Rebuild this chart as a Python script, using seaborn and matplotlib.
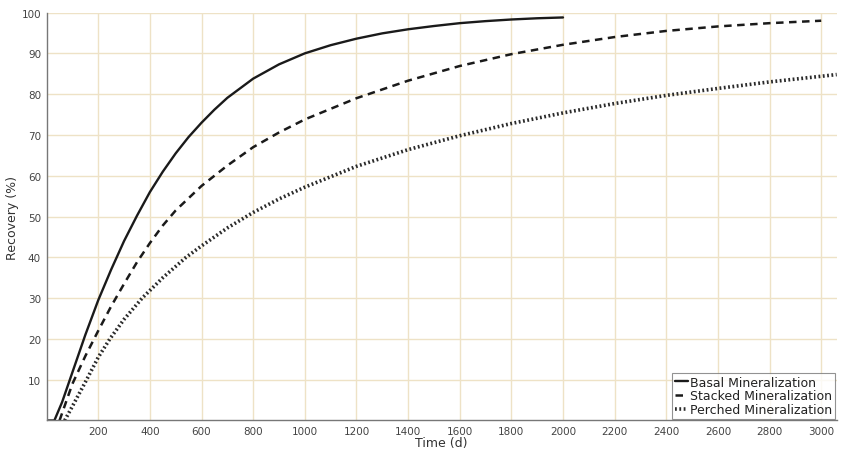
import numpy as np
import pandas as pd
import matplotlib
matplotlib.use("Agg")
import matplotlib.pyplot as plt
import seaborn as sns

# ---- data ----
basal_t = [0, 30, 60, 90, 120, 150, 200, 250, 300, 350, 400, 450, 500, 550, 600, 650, 700,
           800, 900, 1000, 1100, 1200, 1300, 1400, 1500, 1600, 1700, 1800, 1900, 2000]
basal_r = [0, 0, 4.5, 10, 15.5, 21, 29.5, 37, 44, 50.2, 56, 61, 65.5, 69.5, 73, 76.2, 79.1,
           83.8, 87.3, 90, 92, 93.6, 94.9, 95.9, 96.7, 97.4, 97.9, 98.3, 98.6, 98.8]

stacked_t = [50, 100, 150, 200, 250, 300, 350, 400, 450, 500, 600, 700, 800, 900, 1000,
             1200, 1400, 1600, 1800, 2000, 2200, 2400, 2600, 2800, 3000]
stacked_r = [0, 9, 15.8, 22, 28, 33.5, 38.8, 43.5, 47.8, 51.5, 57.5, 62.5, 67, 70.6, 73.8,
             79, 83.3, 86.9, 89.8, 92.1, 94, 95.5, 96.6, 97.4, 98.0]

perched_t = [70, 100, 155, 200, 245, 300, 370, 450, 540, 600, 700, 800, 900, 1000, 1200,
             1400, 1600, 1800, 2000, 2200, 2400, 2600, 2800, 3060]
perched_r = [0, 3.5, 10, 15.5, 20, 24.8, 30, 35, 40, 42.8, 47.2, 51, 54.3, 57.2, 62.3,
             66.4, 69.8, 72.8, 75.4, 77.7, 79.7, 81.4, 83, 84.8]

series_names = ["Basal Mineralization", "Stacked Mineralization", "Perched Mineralization"]
x_ticks = list(range(200, 3001, 200))
y_ticks = list(range(10, 101, 10))

sns.set_theme(style="white")
plt.rcParams['font.family'] = ['DejaVu Sans']

fig = plt.figure(figsize=(8.46, 4.52), dpi=100)
ax = fig.add_axes([0.0551, 0.0675, 0.989 - 0.0551, 0.970 - 0.0675])

df_b = pd.DataFrame({"t": basal_t, "r": basal_r})
df_s = pd.DataFrame({"t": stacked_t, "r": stacked_r})
df_p = pd.DataFrame({"t": perched_t, "r": perched_r})

sns.lineplot(data=df_b, x="t", y="r", ax=ax, color="#1a1a1a", linewidth=1.7,
             label=series_names[0], sort=False)
ax.lines[-1].set_solid_joinstyle("round")
sns.lineplot(data=df_s, x="t", y="r", ax=ax, color="#1a1a1a", linewidth=1.8,
             label=series_names[1], sort=False)
ax.lines[-1].set_linestyle((0, (3, 2.2)))
sns.lineplot(data=df_p, x="t", y="r", ax=ax, color="#2a2a2a", linewidth=2.6,
             label=series_names[2], sort=False)
ax.lines[-1].set_linestyle((0, (0.5, 0.7)))

ax.set_xlim(0, 3060)
ax.set_ylim(0, 100)
ax.set_xticks(x_ticks)
ax.set_yticks(y_ticks)
ax.set_xticklabels([str(v) for v in x_ticks], fontsize=7.5, color="#444444")
ax.set_yticklabels([str(v) for v in y_ticks], fontsize=7.5, color="#444444")
ax.tick_params(axis="both", length=2, width=0.6, color="#888888", pad=2)

ax.grid(True, color="#eee2c6", linewidth=1.0)
ax.set_axisbelow(True)
for side in ["top", "right"]:
    ax.spines[side].set_visible(False)
for side in ["left", "bottom"]:
    ax.spines[side].set_color("#777777")
    ax.spines[side].set_linewidth(1.0)

ax.set_xlabel("Time (d)", fontsize=9, color="#333333", labelpad=0)
ax.set_ylabel("Recovery (%)", fontsize=9, color="#333333", labelpad=2)

leg = ax.legend(loc="lower right", fontsize=9, frameon=True, fancybox=False,
                handlelength=1.0, handletextpad=0.2, borderpad=0.25,
                labelspacing=0.05, borderaxespad=0.1)
leg.get_frame().set_edgecolor("#777777")
leg.get_frame().set_linewidth(0.8)
for t in leg.get_texts():
    t.set_color("#222222")

fig.savefig("out.png", dpi=100, facecolor="white")
